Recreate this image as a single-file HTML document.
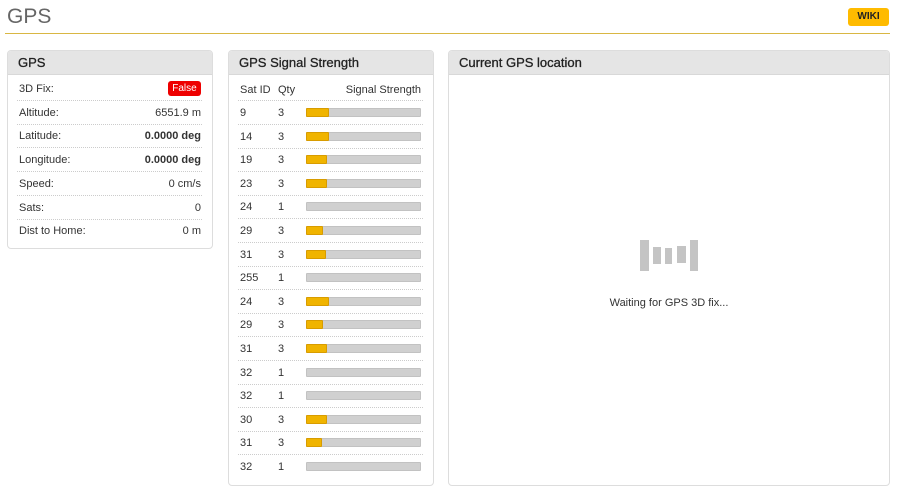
<!DOCTYPE html>
<html><head><style>
body{margin:0;width:898px;height:502px;background:#fff;font-family:"Liberation Sans",sans-serif;color:#333;position:relative;overflow:hidden}
.a{position:absolute}
.t{font-size:11px;line-height:12px}
.panel{position:absolute;border:1px solid #ddd;border-radius:4px;background:#fff;box-sizing:border-box}
.ph{height:24px;background:#e5e5e5;border-bottom:1px solid #d8d8d8;border-radius:3px 3px 0 0;font-size:13px;color:#222;padding-left:10px;line-height:24px;box-sizing:border-box;-webkit-text-stroke:0.3px #222}
.sep{position:absolute;height:0;border-top:1px dotted #ccc}
.bar{position:absolute;left:306px;width:115px;height:9px;background:#d0d0d0;border:1px solid #c2c2c2;box-sizing:border-box;border-radius:1px}
.bar i{position:absolute;left:-1px;top:-1px;height:9px;background:#f0b400;border:1px solid #d89c00;box-sizing:border-box;border-radius:1px}
</style></head><body>
<div class="a" style="left:7px;top:5px;font-size:21px;color:#666;font-weight:300">GPS</div>
<div class="a" style="left:5px;top:33px;width:885px;height:1px;background:#d9b743"></div>
<div class="a" style="left:848px;top:8px;width:41px;height:18px;background:#ffbb00;border-radius:3px;font-size:10px;font-weight:bold;line-height:18px;text-align:center;color:#222">WIKI</div>

<div class="panel" style="left:7px;top:50px;width:206px;height:199px"><div class="ph">GPS</div></div>
<div class="panel" style="left:228px;top:50px;width:206px;height:436px"><div class="ph">GPS Signal Strength</div></div>
<div class="panel" style="left:448px;top:50px;width:442px;height:436px"><div class="ph">Current GPS location</div></div>

<div id="g"></div>
<div class="a" style="left:640px;top:240px;width:9px;height:31px;background:#c4c4c4"></div>
<div class="a" style="left:653px;top:247px;width:8px;height:17px;background:#c4c4c4"></div>
<div class="a" style="left:665px;top:248px;width:7px;height:16px;background:#c4c4c4"></div>
<div class="a" style="left:677px;top:246px;width:9px;height:17px;background:#c4c4c4"></div>
<div class="a" style="left:690px;top:240px;width:8px;height:31px;background:#c4c4c4"></div>
<div class="a t" style="left:448px;width:442px;top:297px;text-align:center">Waiting for GPS 3D fix...</div>
<script>
var h='';
var L=[["3D Fix:",""],["Altitude:","6551.9 m"],["Latitude:","<b>0.0000 deg</b>"],["Longitude:","<b>0.0000 deg</b>"],["Speed:","0 cm/s"],["Sats:","0"],["Dist to Home:","0 m"]];
for(var i=0;i<L.length;i++){var y=88+i*23.7;
h+='<div class="a t" style="left:19px;top:'+(y-5)+'px">'+L[i][0]+'</div>';
if(i==0)h+='<div class="a" style="left:168px;top:81px;width:33px;height:15px;background:#e00;border-radius:3px;color:#fff;font-size:10px;line-height:15px;text-align:center">False</div>';
else h+='<div class="a t" style="right:697px;top:'+(y-5)+'px">'+L[i][1]+'</div>';
if(i<6)h+='<div class="sep" style="left:17px;width:185px;top:'+(y+12)+'px"></div>';}
h+='<div class="a t" style="left:240px;top:84px">Sat ID</div><div class="a t" style="left:278px;top:84px">Qty</div><div class="a t" style="right:477px;top:84px">Signal Strength</div><div class="sep" style="left:238px;width:185px;top:100px"></div>';
var S=[[9,3,22],[14,3,22],[19,3,20],[23,3,20],[24,1,0],[29,3,16],[31,3,19],[255,1,0],[24,3,22],[29,3,16],[31,3,20],[32,1,0],[32,1,0],[30,3,20],[31,3,15],[32,1,0]];
for(var i=0;i<S.length;i++){var y=112+i*23.6;
h+='<div class="a t" style="left:240px;top:'+(y-5)+'px">'+S[i][0]+'</div><div class="a t" style="left:278px;top:'+(y-5)+'px">'+S[i][1]+'</div>';
h+='<div class="bar" style="top:'+(y-4)+'px">'+(S[i][2]?'<i style="width:'+(S[i][2]+1)+'px"></i>':'')+'</div>';
if(i<15)h+='<div class="sep" style="left:238px;width:185px;top:'+(y+12)+'px"></div>';}
document.getElementById('g').innerHTML=h;
</script>
</body></html>
